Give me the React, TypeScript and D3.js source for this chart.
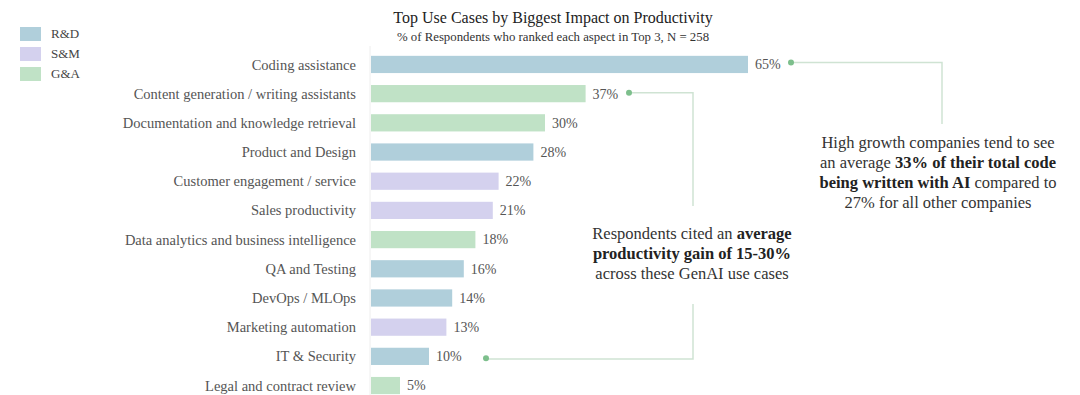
import React, { useEffect, useRef } from "react";
import * as d3 from "d3";

const categories = [
  "Coding assistance",
  "Content generation / writing assistants",
  "Documentation and knowledge retrieval",
  "Product and Design",
  "Customer engagement / service",
  "Sales productivity",
  "Data analytics and business intelligence",
  "QA and Testing",
  "DevOps / MLOps",
  "Marketing automation",
  "IT & Security",
  "Legal and contract review",
];
const values = [65, 37, 30, 28, 22, 21, 18, 16, 14, 13, 10, 5];
const groups = ["R&D", "G&A", "G&A", "R&D", "S&M", "S&M", "G&A", "R&D", "R&D", "S&M", "R&D", "G&A"];
const legendKeys = ["R&D", "S&M", "G&A"];
const legendColors = ["#b0cfdb", "#d4d1ee", "#c0e2c6"];

const FONT = "'Liberation Serif', serif";

export default function App() {
  const ref = useRef<SVGSVGElement>(null);

  useEffect(() => {
    const svg = d3.select(ref.current);
    svg.selectAll("*").remove();

    const x = d3.scaleLinear().domain([0, 65]).range([371, 748]);
    const y = d3.scaleBand().domain(categories).range([50, 400]).paddingInner(0.41).paddingOuter(0.2);
    const color = d3.scaleOrdinal<string, string>().domain(legendKeys).range(legendColors);
    const cy = (c: string) => (y(c) as number) + y.bandwidth() / 2;

    // title
    svg.append("text").attr("x", 553).attr("y", 23).attr("text-anchor", "middle")
      .attr("font-family", FONT).attr("font-size", 16).attr("fill", "#222")
      .text("Top Use Cases by Biggest Impact on Productivity");
    svg.append("text").attr("x", 553).attr("y", 41).attr("text-anchor", "middle")
      .attr("font-family", FONT).attr("font-size", 12.8).attr("fill", "#333")
      .text("% of Respondents who ranked each aspect in Top 3, N = 258");

    // legend
    const lg = svg.append("g");
    legendKeys.forEach((k, i) => {
      lg.append("rect").attr("x", 20).attr("y", 27 + i * 20).attr("width", 21).attr("height", 14)
        .attr("fill", color(k));
      lg.append("text").attr("x", 51).attr("y", 38 + i * 20).attr("font-family", FONT)
        .attr("font-size", 13).attr("fill", "#444").text(k);
    });

    // axis line
    svg.append("line").attr("x1", x(0) - 1).attr("x2", x(0) - 1).attr("y1", 46).attr("y2", 395)
      .attr("stroke", "#eee").attr("stroke-width", 1);

    // bars
    svg.append("g").selectAll("rect").data(categories).join("rect")
      .attr("x", x(0)).attr("y", (c) => y(c) as number)
      .attr("width", (_, i) => x(values[i]) - x(0)).attr("height", y.bandwidth())
      .attr("fill", (_, i) => color(groups[i]));

    svg.append("g").selectAll("text").data(categories).join("text")
      .attr("x", 356).attr("y", (c) => cy(c)).attr("dy", "0.35em").attr("text-anchor", "end")
      .attr("font-family", FONT).attr("font-size", 14.5).attr("fill", "#555").text((c) => c);

    svg.append("g").selectAll("text").data(categories).join("text")
      .attr("x", (_, i) => x(values[i]) + 7).attr("y", (c) => cy(c)).attr("dy", "0.35em")
      .attr("font-family", FONT).attr("font-size", 14).attr("fill", "#555")
      .text((_, i) => `${values[i]}%`);

    const green = "#7dbf8c";
    const lineCol = "#cfe3d3";

    // annotation 1
    const y1 = cy(categories[0]) - 2;
    svg.append("path").attr("d", `M791,${y1} H942 V124`).attr("fill", "none")
      .attr("stroke", lineCol).attr("stroke-width", 1.5);
    svg.append("circle").attr("cx", 791).attr("cy", y1).attr("r", 3).attr("fill", green);

    // annotation 2
    const y2 = cy(categories[1]) - 1;
    const y3 = cy(categories[10]) + 2;
    svg.append("path").attr("d", `M629,${y2} H693 V206`).attr("fill", "none")
      .attr("stroke", lineCol).attr("stroke-width", 1.5);
    svg.append("path").attr("d", `M693,304 V359 H486`).attr("fill", "none")
      .attr("stroke", lineCol).attr("stroke-width", 1.5);
    svg.append("circle").attr("cx", 629).attr("cy", y2).attr("r", 3).attr("fill", green);
    svg.append("circle").attr("cx", 486).attr("cy", y3).attr("r", 3).attr("fill", green);

    const addLines = (cx: number, top: number, lines: [string, boolean][][]) => {
      lines.forEach((parts, i) => {
        const t = svg.append("text").attr("x", cx).attr("y", top + i * 20).attr("text-anchor", "middle")
          .attr("font-family", FONT).attr("font-size", 16.5).attr("fill", "#333");
        parts.forEach(([s, b]) => {
          t.append("tspan").attr("font-weight", b ? "bold" : "normal").attr("fill", b ? "#222" : "#333").text(s);
        });
      });
    };
    addLines(938, 148, [
      [["High growth companies tend to see", false]],
      [["an average ", false], ["33% of their total code", true]],
      [["being written with AI", true], [" compared to", false]],
      [["27% for all other companies", false]],
    ]);
    addLines(692, 239, [
      [["Respondents cited an ", false], ["average", true]],
      [["productivity gain of 15-30%", true]],
      [["across these GenAI use cases", false]],
    ]);
  }, []);

  return (
    <svg ref={ref} width={1080} height={395} style={{ position: "absolute", left: 0, top: 0, background: "#fff" }} />
  );
}
